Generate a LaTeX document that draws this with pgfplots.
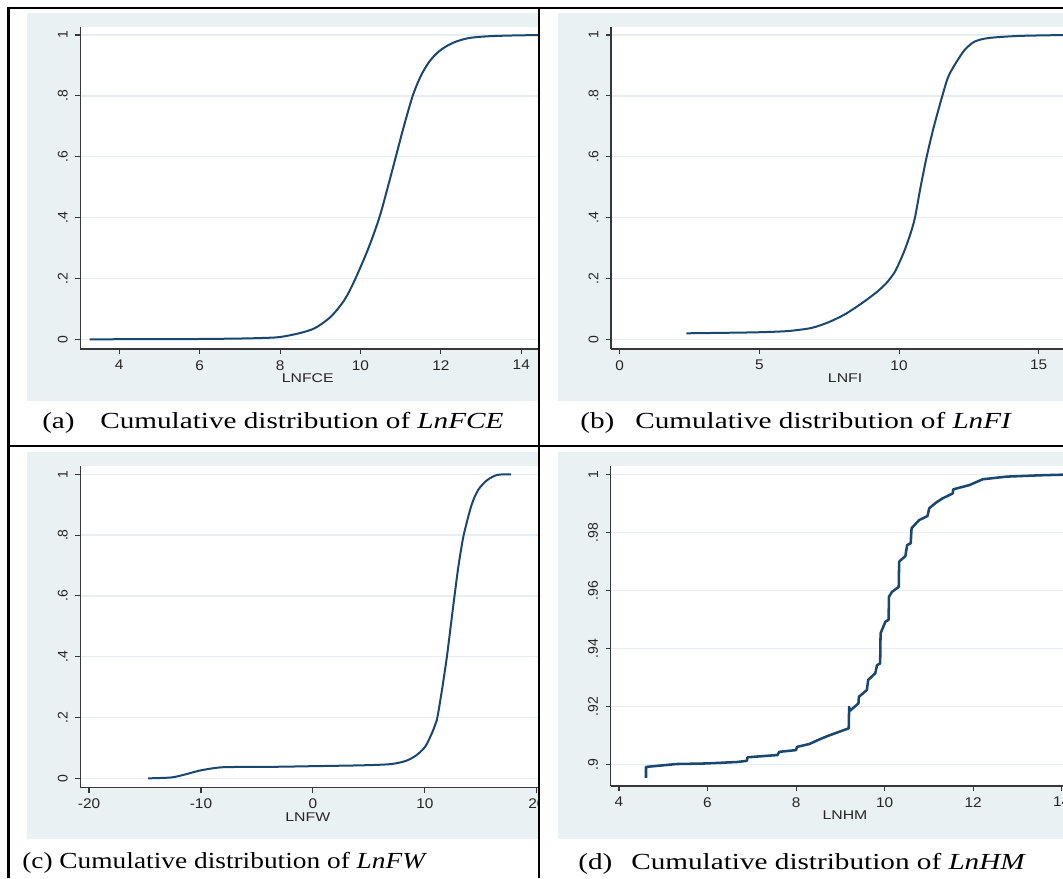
\documentclass[border=0pt]{standalone}
\usepackage{fontspec}
\setmainfont{Liberation Serif}
\setsansfont{Liberation Sans}
\usepackage{graphicx}
\usepackage{pgfplots}
\pgfplotsset{compat=1.18}

\definecolor{stbg}{RGB}{233,241,243}
\definecolor{stgrid}{RGB}{230,238,241}
\definecolor{stnavy}{RGB}{26,71,111}
\definecolor{staxis}{RGB}{55,55,55}

\newcommand{\capfont}{\fontsize{17.25pt}{20pt}\selectfont}
\newcommand{\sx}[1]{\scalebox{1.1}[1]{#1}}
\newcommand{\lx}[1]{\scalebox{1.25}[1]{#1}}
\newcommand{\cx}[1]{\scalebox{1.27}[1]{#1}}
\newcommand{\cxc}[1]{\scalebox{1.19}[1]{#1}}

\pgfplotsset{stata/.style={
  scale only axis, enlargelimits=false, anchor=south west,
  axis x line*=bottom, axis y line*=left,
  axis line style={staxis, line width=0.8pt},
  tick align=outside, major tick length=3.75pt,
  tick style={staxis, line width=0.8pt},
  minor tick num=0,
  axis background/.style={fill=white},
  ymajorgrids, grid style={stgrid, line width=1.1pt},
  ticklabel style={font=\sffamily\fontsize{10.5pt}{12pt}\selectfont, inner sep=0pt, text=black!85},
  xticklabel shift=4.5pt,
  yticklabel style={rotate=90, anchor=south},
  yticklabel shift=5.5pt,
  xlabel style={font=\sffamily\fontsize{9.5pt}{11pt}\selectfont, anchor=north, inner sep=0pt, text=black!85},
}}

\begin{document}
\begin{tikzpicture}
\useasboundingbox (0,0) rectangle (797.25pt,-658.5pt);

% (a) LNFCE
\begin{scope}
\clip (7.5pt,-7pt) rectangle (404.25pt,-334.5pt);
\fill[stbg] (20.25pt,-10pt) rectangle (410pt,-300.5pt);
\begin{axis}[stata, at={(60.2pt,-261.75pt)}, width=344pt, height=241.5pt,
  xmin=3.03, xmax=14.44, ymin=-0.0319, ymax=1.0263,
  xtick={4,6,8,10,12,14}, xticklabels={\sx{4},\sx{6},\sx{8},\sx{10},\sx{12},\sx{14}},
  ytick={0,0.2,0.4,0.6,0.8,1}, yticklabels={0,.2,.4,.6,.8,1},
  xlabel={\lx{LNFCE}}, xlabel style={at={(axis description cs:0.496,0)}, yshift=-18.5pt}]
\addplot[stnavy, line width=1.5pt, smooth, tension=0.5] coordinates {
(3.26,0) (5,0.0005) (6,0.001) (7,0.0025) (7.6,0.0045) (8.0,0.0075) (8.48,0.02)
(8.87,0.037) (9.26,0.074) (9.6,0.129) (9.86,0.195) (10.2,0.3) (10.47,0.4)
(10.68,0.5) (10.88,0.6) (11.08,0.7) (11.3,0.8) (11.5,0.865) (11.7,0.91)
(11.9,0.94) (12.1,0.96) (12.35,0.977) (12.7,0.99) (13.2,0.996) (14,0.999) (14.9,1)
};
\end{axis}
\node[anchor=base west, inner sep=0pt] at (31.5pt,-321pt) {\capfont\cx{(a)}};
\node[anchor=base west, inner sep=0pt] at (75pt,-321pt) {\capfont\cx{Cumulative distribution of \textit{LnFCE}}};
\end{scope}

% (b) LNFI
\begin{scope}
\clip (404.25pt,-7pt) rectangle (797.25pt,-334.5pt);
\fill[stbg] (418.5pt,-10pt) rectangle (800pt,-300.5pt);
\begin{axis}[stata, at={(458.25pt,-261.75pt)}, width=339pt, height=241.5pt,
  xmin=-0.311, xmax=15.87, ymin=-0.0319, ymax=1.0263,
  xtick={0,5,10,15}, xticklabels={\sx{0},\sx{5},\sx{10},\sx{15}},
  ytick={0,0.2,0.4,0.6,0.8,1}, yticklabels={0,.2,.4,.6,.8,1},
  xlabel={\lx{LNFI}}, xlabel style={at={(axis description cs:0.518,0)}, yshift=-18.5pt}]
\addplot[stnavy, line width=1.5pt, smooth, tension=0.45] coordinates {
(2.39,0.0197) (3.5,0.021) (4.92,0.023) (6.01,0.027) (6.85,0.037) (7.45,0.055)
(8.06,0.082) (8.66,0.118) (9.2,0.155) (9.55,0.185) (9.84,0.22) (10.05,0.26)
(10.23,0.3) (10.42,0.35) (10.57,0.4) (10.77,0.5) (10.99,0.6) (11.25,0.7)
(11.55,0.8) (11.75,0.86) (11.98,0.9) (12.34,0.95) (12.7,0.978) (13.2,0.99)
(14.3,0.997) (16,1)
};
\end{axis}
\node[anchor=base west, inner sep=0pt] at (435pt,-321pt) {\capfont\cx{(b)}};
\node[anchor=base west, inner sep=0pt] at (476.25pt,-321pt) {\capfont\cx{Cumulative distribution of \textit{LnFI}}};
\end{scope}

% (c) LNFW
\begin{scope}
\clip (7.5pt,-334.5pt) rectangle (404.25pt,-658.5pt);
\fill[stbg] (20.25pt,-339.2pt) rectangle (410pt,-629.25pt);
\begin{axis}[stata, at={(60.2pt,-590.8pt)}, width=344pt, height=241.3pt,
  xmin=-20.78, xmax=20.18, ymin=-0.0309, ymax=1.0273,
  xtick={-20,-10,0,10,20}, xticklabels={\sx{-20},\sx{-10},\sx{0},\sx{10},\sx{20}},
  ytick={0,0.2,0.4,0.6,0.8,1}, yticklabels={0,.2,.4,.6,.8,1},
  xlabel={\lx{LNFW}}, xlabel style={at={(axis description cs:0.496,0)}, yshift=-18.5pt}]
\addplot[stnavy, line width=1.5pt, smooth, tension=0.45] coordinates {
(-14.71,0) (-12.63,0.003) (-11.40,0.013) (-10.18,0.025) (-8.95,0.033) (-7.73,0.037)
(-3.44,0.038) (-0.08,0.040) (4.52,0.043) (6.98,0.047) (8.34,0.058) (9.27,0.077)
(10.04,0.105) (10.64,0.15) (10.9,0.175) (11.11,0.2) (11.56,0.3) (11.96,0.4)
(12.3,0.5) (12.64,0.6) (13.0,0.7) (13.46,0.8) (14.17,0.9) (14.78,0.95)
(15.56,0.981) (16.46,0.998) (17.69,1)
};
\end{axis}
\node[anchor=base west, inner sep=0pt] at (16.5pt,-651pt) {\capfont\cxc{(c) Cumulative distribution of \textit{LnFW}}};
\end{scope}

% (d) LNHM
\begin{scope}
\clip (404.25pt,-334.5pt) rectangle (797.25pt,-658.5pt);
\fill[stbg] (418.5pt,-339.2pt) rectangle (800pt,-629.25pt);
\begin{axis}[stata, at={(458pt,-589.5pt)}, width=339.2pt, height=240pt,
  xmin=3.812, xmax=14.03, ymin=0.89252, ymax=1.00286,
  xtick={4,6,8,10,12,14}, xticklabels={\sx{4},\sx{6},\sx{8},\sx{10},\sx{12},\sx{14}},
  ytick={0.9,0.92,0.94,0.96,0.98,1}, yticklabels={.9,.92,.94,.96,.98,1},
  xlabel={\lx{LNHM}}, xlabel style={at={(axis description cs:0.518,0)}, yshift=-18.5pt}]
\addplot[stnavy, line width=1.9pt, line join=round] coordinates {
(4.61,0.8953) (4.61,0.8991) (5.30,0.9001) (5.98,0.9003) (6.67,0.9008) (6.89,0.9012)
(6.90,0.9024) (7.05,0.9026) (7.58,0.9032) (7.62,0.9043) (8.00,0.9049) (8.02,0.9060)
(8.30,0.9070) (8.53,0.9086) (8.72,0.9098) (8.99,0.9113) (9.19,0.9124) (9.20,0.9198)
(9.22,0.9185) (9.41,0.921) (9.42,0.9233) (9.60,0.9256) (9.63,0.9291) (9.79,0.9314)
(9.83,0.9342) (9.90,0.9348) (9.91,0.9452) (10.02,0.9492) (10.09,0.9498) (10.10,0.9578)
(10.17,0.9595) (10.32,0.9612) (10.33,0.9699) (10.47,0.9718) (10.51,0.9756) (10.59,0.9762)
(10.61,0.9814) (10.78,0.9842) (10.97,0.9856) (11.01,0.9883) (11.16,0.9902) (11.31,0.9917)
(11.54,0.9934) (11.55,0.9948) (11.92,0.9963) (12.22,0.9983) (12.76,0.9992) (13.52,0.99966)
(14.1,0.9999)
};
\end{axis}
\node[anchor=base west, inner sep=0pt] at (433.5pt,-651.75pt) {\capfont\cx{(d)}};
\node[anchor=base west, inner sep=0pt] at (473.25pt,-651.75pt) {\capfont\cx{Cumulative distribution of \textit{LnHM}}};
\end{scope}

% table rules
\draw[line width=1.9pt] (5.5pt,-6pt) -- (797.25pt,-6pt);
\draw[line width=1.9pt] (6.5pt,-5pt) -- (6.5pt,-658.5pt);
\draw[line width=1.9pt] (404.25pt,-5pt) -- (404.25pt,-658.5pt);
\draw[line width=1.9pt] (5.5pt,-334.5pt) -- (797.25pt,-334.5pt);
\end{tikzpicture}
\end{document}
